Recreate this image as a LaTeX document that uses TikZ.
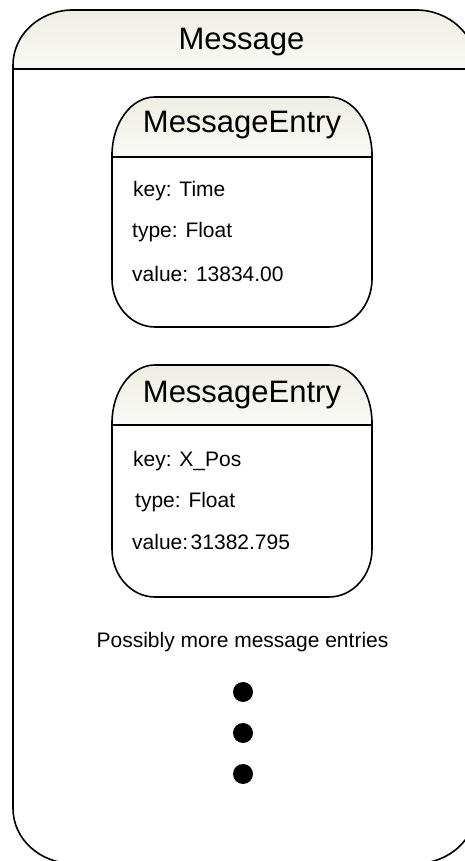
\documentclass[tikz,border=0pt]{standalone}
\usepackage{fontspec}
\setmainfont{Liberation Sans}
\definecolor{headtop}{RGB}{238,238,228}
\definecolor{headbot}{RGB}{250,250,246}
\tikzset{
  outline/.style={draw=black, line width=1.6pt},
  headfill/.style={top color=headtop, bottom color=headbot, draw=none},
  titletext/.style={anchor=base, font=\fontsize{31}{36}\selectfont, inner sep=0pt},
  fieldtext/.style={anchor=base west, font=\fontsize{21}{25}\selectfont, inner sep=0pt},
  notetext/.style={anchor=base, font=\fontsize{21}{25}\selectfont, inner sep=0pt},
  bullet/.style={circle, fill=black, minimum size=20pt, inner sep=0pt},
}
% Entry box: #1 = top edge, #2 = title separator, #3 = bottom edge
\newcommand{\DrawEntryBox}[3]{%
  \path[headfill] (112,#2) -- (112,#1-58)
    arc[start angle=180, end angle=90, x radius=43, y radius=58] -- (329,#1)
    arc[start angle=90, end angle=0, x radius=43, y radius=58] -- (372,#2) -- cycle;
  \draw[outline] (112,#2) -- (112,#1-58)
    arc[start angle=180, end angle=90, x radius=43, y radius=58] -- (329,#1)
    arc[start angle=90, end angle=0, x radius=43, y radius=58] -- (372,#3+48)
    arc[start angle=0, end angle=-90, x radius=43, y radius=48] -- (155,#3)
    arc[start angle=270, end angle=180, x radius=43, y radius=48] -- cycle;
  \draw[outline] (112,#2) -- (372,#2);
}
\begin{document}
\begin{tikzpicture}[x=1pt, y=1pt]
  \useasboundingbox (0,0) rectangle (464,861);
  \fill[white] (0,0) rectangle (464,861);

  % Outer message container
  \path[headfill] (13,792) -- (13,796)
    arc[start angle=180, end angle=90, x radius=60, y radius=55] -- (416,851)
    arc[start angle=90, end angle=0, x radius=60, y radius=55] -- (476,792) -- cycle;
  \draw[outline] (13,792) -- (13,796)
    arc[start angle=180, end angle=90, x radius=60, y radius=55] -- (416,851)
    arc[start angle=90, end angle=0, x radius=60, y radius=55] -- (476,52.5)
    arc[start angle=0, end angle=-90, x radius=60, y radius=55] -- (73,-2.5)
    arc[start angle=270, end angle=180, x radius=60, y radius=55] -- cycle;
  \draw[outline] (13,792) -- (476,792);
  \node[titletext] (msgtitle) at (241.5,811) {Message};

  % First entry
  \DrawEntryBox{764}{704}{534}
  \node[titletext] (e1title) at (242,728) {MessageEntry};
  \node[fieldtext] (e1key) at (133,664) {key: Time};
  \node[fieldtext] (e1type) at (132,623) {type: Float};
  \node[fieldtext] (e1value) at (132,579) {value: 13834.00};

  % Second entry
  \DrawEntryBox{496}{436}{264}
  \node[titletext] (e2title) at (242,458) {MessageEntry};
  \node[fieldtext] (e2key) at (133,394) {key: X\_Pos};
  \node[fieldtext] (e2type) at (135,353) {type: Float};
  \node[fieldtext] (e2value) at (132,311) {value:\hspace{0.12em}31382.795};

  % Continuation hint
  \node[notetext] (more) at (242.5,213) {Possibly more message entries};
  \node[bullet] (dot1) at (243,169) {};
  \node[bullet] (dot2) at (243,128) {};
  \node[bullet] (dot3) at (243,87) {};
\end{tikzpicture}
\end{document}
